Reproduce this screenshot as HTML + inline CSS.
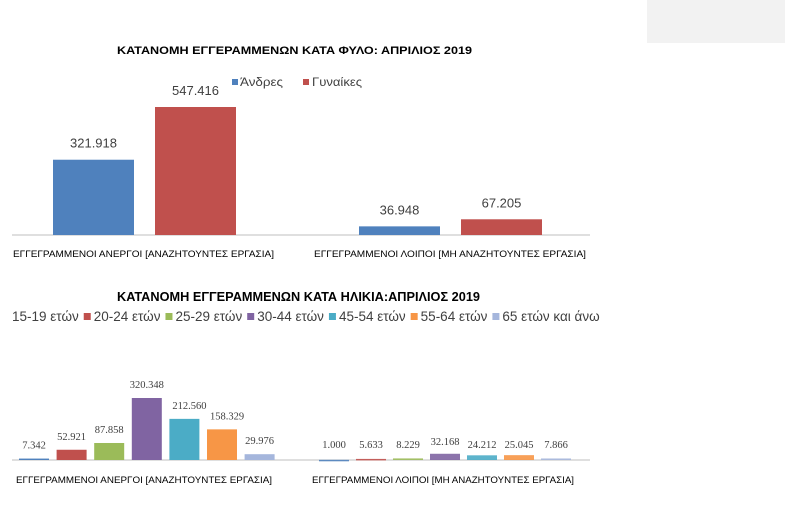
<!DOCTYPE html>
<html><head><meta charset="utf-8"><style>
body{margin:0;background:#fff;width:785px;height:515px;overflow:hidden}
svg{display:block;font-family:"Liberation Sans","DejaVu Sans",sans-serif}
</style></head><body>
<svg id="s" width="785" height="515">
<rect x="647" y="0" width="138" height="43" fill="#f2f2f2"/>
<text x="117" y="54" textLength="355" lengthAdjust="spacingAndGlyphs" font-size="11" font-weight="bold" fill="#000">ΚΑΤΑΝΟΜΗ ΕΓΓΕΡΑΜΜΕΝΩΝ ΚΑΤΑ ΦΥΛΟ: ΑΠΡΙΛΙΟΣ 2019</text>
<g font-size="12" fill="#404040">
<rect x="232" y="79" width="6" height="6" fill="#4f81bd"/><text x="240" y="86" textLength="43" lengthAdjust="spacingAndGlyphs">Άνδρες</text>
<rect x="303" y="79" width="6" height="6" fill="#c0504d"/><text x="312" y="86" textLength="50" lengthAdjust="spacingAndGlyphs">Γυναίκες</text>
</g>
<line x1="12" y1="235" x2="590" y2="235" stroke="#bfbfbf"/>
<text x="13" y="257" textLength="261" lengthAdjust="spacingAndGlyphs" font-size="9" fill="#000">ΕΓΓΕΓΡΑΜΜΕΝΟΙ ΑΝΕΡΓΟΙ [ΑΝΑΖΗΤΟΥΝΤΕΣ ΕΡΓΑΣΙΑ]</text>
<text x="314" y="257" textLength="272" lengthAdjust="spacingAndGlyphs" font-size="9" fill="#000">ΕΓΓΕΓΡΑΜΜΕΝΟΙ ΛΟΙΠΟΙ [ΜΗ ΑΝΑΖΗΤΟΥΝΤΕΣ ΕΡΓΑΣΙΑ]</text>
<text x="117" y="301" textLength="363" lengthAdjust="spacingAndGlyphs" font-size="13" font-weight="bold" fill="#000">ΚΑΤΑΝΟΜΗ ΕΓΓΕΡΑΜΜΕΝΩΝ ΚΑΤΑ ΗΛΙΚΙΑ:ΑΠΡΙΛΙΟΣ  2019</text>
<line x1="12" y1="460" x2="590" y2="460" stroke="#bfbfbf"/>
<text x="16" y="483" textLength="256" lengthAdjust="spacingAndGlyphs" font-size="9" fill="#000">ΕΓΓΕΓΡΑΜΜΕΝΟΙ ΑΝΕΡΓΟΙ [ΑΝΑΖΗΤΟΥΝΤΕΣ ΕΡΓΑΣΙΑ]</text>
<text x="312" y="483" textLength="262" lengthAdjust="spacingAndGlyphs" font-size="9" fill="#000">ΕΓΓΕΓΡΑΜΜΕΝΟΙ ΛΟΙΠΟΙ [ΜΗ ΑΝΑΖΗΤΟΥΝΤΕΣ ΕΡΓΑΣΙΑ]</text>
</svg>
<script>
const genderCats=["ΑΝΕΡΓΟΙ","ΛΟΙΠΟΙ"];
const men=[321918,36948];
const women=[547416,67205];
const ageGroups=["15-19 ετών","20-24 ετών","25-29 ετών","30-44 ετών","45-54 ετών","55-64 ετών","65 ετών και άνω"];
const ageUnemployed=[7342,52921,87858,320348,212560,158329,29976];
const ageOther=[1000,5633,8229,32168,24212,25045,7866];
const ageColors=["#4f81bd","#c0504d","#9bbb59","#8064a2","#4bacc6","#f79646","#a5b6dc"];
const ns="http://www.w3.org/2000/svg",svg=document.getElementById('s');
function f3(v){return v.toString().replace(/\B(?=(\d{3})+(?!\d))/g,'.');}
function mk(t,a){const e=document.createElementNS(ns,t);for(const k in a)e.setAttribute(k,a[k]);svg.appendChild(e);return e;}
// gender chart
const gBase=235,gScale=128/547416;
const gy=v=>gBase-v*gScale;
const gGroupX=[53,359],gBarW=81,gGap=102;
genderCats.forEach((c,i)=>{
 [[men,"#4f81bd","men"],[women,"#c0504d","women"]].forEach(([arr,col,nm],j)=>{
  const x=gGroupX[i]+j*gGap,v=arr[i];
  const r=mk('rect',{x:x,y:gy(v),width:gBarW,height:v*gScale,fill:col});
  
  
  const t=mk('text',{x:x+gBarW/2,y:gy(v)-12,'text-anchor':'middle','font-size':13,fill:'#404040'});
  t.textContent=f3(v);
  
  
 });
});
// age legend
let lx=12;
ageGroups.forEach((g,i)=>{
 if(i>0){const r=mk('rect',{x:lx,y:313,width:7,height:7,fill:ageColors[i]});
  
  lx+=10;}
 const t=mk('text',{x:lx,y:321,'font-size':13.5,fill:'#404040'});
 t.textContent=g;
 
 
 lx+=t.getComputedTextLength()+5;
});
// age chart
const aBase=460,aScale=62/320348;
const ay=v=>aBase-v*aScale;
const aGroupX=[19,319],aBarW=30,aStep=[37.6,37];
[ageUnemployed,ageOther].forEach((arr,gi)=>{
 arr.forEach((v,i)=>{
  const x=aGroupX[gi]+i*aStep[gi];
  const r=mk('rect',{x:x,y:ay(v),width:aBarW,height:Math.max(v*aScale,gi?1.5:0),fill:ageColors[i],opacity:gi?0.9:1});
  
  
  let ly=ay(v)-10, dx=0;
  if(gi===0&&(i===4||i===5)){dx=5;}
  if(gi===1) ly=aBase-12;
  if(gi===1&&i===3) ly=aBase-15;
  const t=mk('text',{x:x+aBarW/2+dx,y:ly,'text-anchor':'middle','font-size':10.5,'font-family':'Liberation Serif, serif',fill:'#404040'});
  t.textContent=f3(v);
  
  
 });
});
</script>
</body></html>
